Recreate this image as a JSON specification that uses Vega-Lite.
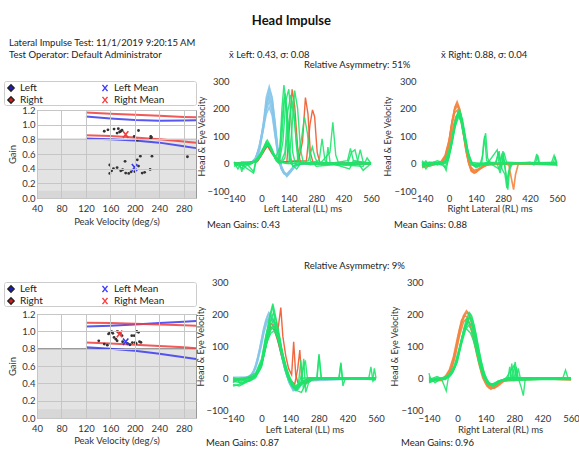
{
"$schema":"https://vega.github.io/schema/vega-lite/v6.json",
"padding":{"left":3,"top":14,"right":0,"bottom":0},
"title":{"text":"Head Impulse","fontSize":13,"fontWeight":"bold","anchor":"middle","offset":10,"color":"#111"},
"datasets":{
"sp1":[{"side":"Right","vel":150,"gain":0.91},{"side":"Right","vel":156,"gain":0.93},{"side":"Right","vel":166,"gain":0.94},{"side":"Right","vel":173,"gain":0.945},{"side":"Right","vel":171,"gain":0.885},{"side":"Right","vel":175,"gain":0.9},{"side":"Right","vel":177,"gain":0.91},{"side":"Right","vel":179,"gain":0.925},{"side":"Right","vel":199,"gain":0.84},{"side":"Right","vel":204,"gain":0.79},{"side":"Right","vel":206,"gain":0.92},{"side":"Right","vel":226,"gain":0.84},{"side":"Right","vel":226,"gain":0.81},{"side":"Right","vel":227,"gain":0.83},
{"side":"Left","vel":159,"gain":0.45},{"side":"Left","vel":159,"gain":0.335},{"side":"Left","vel":165,"gain":0.4},{"side":"Left","vel":171,"gain":0.415},{"side":"Left","vel":177,"gain":0.37},{"side":"Left","vel":180,"gain":0.385},{"side":"Left","vel":185,"gain":0.34},{"side":"Left","vel":190,"gain":0.335},{"side":"Left","vel":194,"gain":0.357},{"side":"Left","vel":184,"gain":0.5},{"side":"Left","vel":204,"gain":0.52},{"side":"Left","vel":209,"gain":0.57},{"side":"Left","vel":206,"gain":0.435},{"side":"Left","vel":212,"gain":0.34},{"side":"Left","vel":228,"gain":0.57},{"side":"Left","vel":225,"gain":0.39},{"side":"Left","vel":286,"gain":0.563},{"side":"Left","vel":162,"gain":0.37},{"side":"Left","vel":200,"gain":0.36},{"side":"Left","vel":216,"gain":0.35}],
"mn1":[{"side":"Left","vel":199.5,"gain":0.418},{"side":"Right","vel":185,"gain":0.866}],
"bd1":[{"side":"Left","lim":"upper","vel":120,"gain":1.11},{"side":"Left","lim":"upper","vel":160,"gain":1.085},{"side":"Left","lim":"upper","vel":200,"gain":1.065},{"side":"Left","lim":"upper","vel":240,"gain":1.055},{"side":"Left","lim":"upper","vel":280,"gain":1.058},{"side":"Left","lim":"upper","vel":300,"gain":1.06},
{"side":"Left","lim":"lower","vel":120,"gain":0.81},{"side":"Left","lim":"lower","vel":160,"gain":0.8},{"side":"Left","lim":"lower","vel":200,"gain":0.785},{"side":"Left","lim":"lower","vel":240,"gain":0.755},{"side":"Left","lim":"lower","vel":280,"gain":0.705},{"side":"Left","lim":"lower","vel":300,"gain":0.68},
{"side":"Right","lim":"upper","vel":120,"gain":1.165},{"side":"Right","lim":"upper","vel":160,"gain":1.15},{"side":"Right","lim":"upper","vel":200,"gain":1.135},{"side":"Right","lim":"upper","vel":240,"gain":1.12},{"side":"Right","lim":"upper","vel":280,"gain":1.105},{"side":"Right","lim":"upper","vel":300,"gain":1.1},
{"side":"Right","lim":"lower","vel":120,"gain":0.855},{"side":"Right","lim":"lower","vel":160,"gain":0.845},{"side":"Right","lim":"lower","vel":200,"gain":0.825},{"side":"Right","lim":"lower","vel":240,"gain":0.8},{"side":"Right","lim":"lower","vel":280,"gain":0.77},{"side":"Right","lim":"lower","vel":300,"gain":0.755}],
"sp2":[{"side":"Right","vel":157,"gain":0.97},{"side":"Right","vel":159,"gain":0.985},{"side":"Right","vel":162,"gain":0.996},{"side":"Right","vel":164,"gain":0.977},{"side":"Right","vel":166,"gain":0.93},{"side":"Right","vel":169,"gain":0.91},{"side":"Right","vel":171.5,"gain":1.0},{"side":"Right","vel":173,"gain":0.988},{"side":"Right","vel":176,"gain":0.977},{"side":"Right","vel":179,"gain":0.95},{"side":"Right","vel":195,"gain":0.95},{"side":"Right","vel":199,"gain":0.95},{"side":"Right","vel":203,"gain":1.0},{"side":"Right","vel":206,"gain":0.988},
{"side":"Left","vel":141,"gain":0.89},{"side":"Left","vel":150,"gain":0.853},{"side":"Left","vel":155,"gain":0.84},{"side":"Left","vel":171,"gain":0.89},{"side":"Left","vel":188,"gain":0.86},{"side":"Left","vel":192,"gain":0.845},{"side":"Left","vel":200.6,"gain":0.87},{"side":"Left","vel":202,"gain":0.86},{"side":"Left","vel":207.6,"gain":0.88},{"side":"Left","vel":210,"gain":0.872},{"side":"Left","vel":180,"gain":0.88},{"side":"Left","vel":196,"gain":0.87}],
"mn2":[{"side":"Left","vel":185,"gain":0.88},{"side":"Right","vel":175,"gain":0.97}],
"bd2":[{"side":"Left","lim":"upper","vel":120,"gain":1.055},{"side":"Left","lim":"upper","vel":160,"gain":1.065},{"side":"Left","lim":"upper","vel":200,"gain":1.08},{"side":"Left","lim":"upper","vel":240,"gain":1.095},{"side":"Left","lim":"upper","vel":280,"gain":1.11},{"side":"Left","lim":"upper","vel":300,"gain":1.12},
{"side":"Left","lim":"lower","vel":120,"gain":0.815},{"side":"Left","lim":"lower","vel":160,"gain":0.8},{"side":"Left","lim":"lower","vel":200,"gain":0.775},{"side":"Left","lim":"lower","vel":240,"gain":0.74},{"side":"Left","lim":"lower","vel":280,"gain":0.7},{"side":"Left","lim":"lower","vel":300,"gain":0.68},
{"side":"Right","lim":"upper","vel":120,"gain":1.1},{"side":"Right","lim":"upper","vel":160,"gain":1.095},{"side":"Right","lim":"upper","vel":200,"gain":1.088},{"side":"Right","lim":"upper","vel":240,"gain":1.08},{"side":"Right","lim":"upper","vel":280,"gain":1.07},{"side":"Right","lim":"upper","vel":300,"gain":1.065},
{"side":"Right","lim":"lower","vel":120,"gain":0.87},{"side":"Right","lim":"lower","vel":160,"gain":0.86},{"side":"Right","lim":"lower","vel":200,"gain":0.845},{"side":"Right","lim":"lower","vel":240,"gain":0.83},{"side":"Right","lim":"lower","vel":280,"gain":0.815},{"side":"Right","lim":"lower","vel":300,"gain":0.805}],
"Ah":[{"s":1,"t":-140,"v":0},{"s":1,"t":-80,"v":1},{"s":1,"t":-50,"v":3},{"s":1,"t":-30,"v":15},{"s":1,"t":-10,"v":60},{"s":1,"t":10,"v":145},{"s":1,"t":25,"v":240},{"s":1,"t":40,"v":280},{"s":1,"t":55,"v":240},{"s":1,"t":70,"v":140},{"s":1,"t":85,"v":40},{"s":1,"t":100,"v":-15},{"s":1,"t":115,"v":-35},{"s":1,"t":130,"v":-40},{"s":1,"t":150,"v":-25},{"s":1,"t":170,"v":-8},{"s":1,"t":200,"v":0},{"s":1,"t":300,"v":0},{"s":1,"t":560,"v":0},
{"s":2,"t":-140,"v":0},{"s":2,"t":-80,"v":0},{"s":2,"t":-50,"v":4},{"s":2,"t":-30,"v":12},{"s":2,"t":-10,"v":50},{"s":2,"t":10,"v":130},{"s":2,"t":25,"v":215},{"s":2,"t":40,"v":250},{"s":2,"t":55,"v":218},{"s":2,"t":70,"v":125},{"s":2,"t":85,"v":35},{"s":2,"t":100,"v":-12},{"s":2,"t":115,"v":-32},{"s":2,"t":130,"v":-38},{"s":2,"t":150,"v":-22},{"s":2,"t":170,"v":-6},{"s":2,"t":200,"v":1},{"s":2,"t":300,"v":0},{"s":2,"t":560,"v":0},
{"s":3,"t":-140,"v":1},{"s":3,"t":-80,"v":0},{"s":3,"t":-50,"v":3},{"s":3,"t":-30,"v":18},{"s":3,"t":-10,"v":65},{"s":3,"t":10,"v":135},{"s":3,"t":25,"v":195},{"s":3,"t":40,"v":225},{"s":3,"t":55,"v":190},{"s":3,"t":70,"v":105},{"s":3,"t":85,"v":25},{"s":3,"t":100,"v":-18},{"s":3,"t":115,"v":-38},{"s":3,"t":130,"v":-42},{"s":3,"t":150,"v":-28},{"s":3,"t":170,"v":-10},{"s":3,"t":200,"v":0},{"s":3,"t":300,"v":1},{"s":3,"t":560,"v":0},
{"s":4,"t":-140,"v":0},{"s":4,"t":-80,"v":2},{"s":4,"t":-50,"v":5},{"s":4,"t":-30,"v":20},{"s":4,"t":-10,"v":60},{"s":4,"t":10,"v":125},{"s":4,"t":25,"v":180},{"s":4,"t":40,"v":205},{"s":4,"t":55,"v":175},{"s":4,"t":70,"v":100},{"s":4,"t":85,"v":30},{"s":4,"t":100,"v":-10},{"s":4,"t":115,"v":-30},{"s":4,"t":130,"v":-45},{"s":4,"t":150,"v":-30},{"s":4,"t":170,"v":-12},{"s":4,"t":200,"v":-2},{"s":4,"t":300,"v":0},{"s":4,"t":560,"v":0},
{"s":5,"t":-140,"v":0},{"s":5,"t":-80,"v":1},{"s":5,"t":-50,"v":2},{"s":5,"t":-30,"v":10},{"s":5,"t":-10,"v":45},{"s":5,"t":10,"v":125},{"s":5,"t":25,"v":220},{"s":5,"t":40,"v":265},{"s":5,"t":55,"v":235},{"s":5,"t":70,"v":150},{"s":5,"t":85,"v":50},{"s":5,"t":100,"v":-5},{"s":5,"t":115,"v":-30},{"s":5,"t":130,"v":-48},{"s":5,"t":150,"v":-30},{"s":5,"t":170,"v":-10},{"s":5,"t":200,"v":0},{"s":5,"t":300,"v":0},{"s":5,"t":560,"v":0},
{"s":6,"t":-140,"v":0},{"s":6,"t":-60,"v":2},{"s":6,"t":-40,"v":8},{"s":6,"t":-20,"v":35},{"s":6,"t":0,"v":100},{"s":6,"t":20,"v":190},{"s":6,"t":38,"v":240},{"s":6,"t":52,"v":215},{"s":6,"t":68,"v":140},{"s":6,"t":82,"v":55},{"s":6,"t":98,"v":-8},{"s":6,"t":115,"v":-35},{"s":6,"t":135,"v":-40},{"s":6,"t":155,"v":-22},{"s":6,"t":180,"v":-5},{"s":6,"t":220,"v":0},{"s":6,"t":560,"v":0}],
"As":[{"s":1,"t":-140,"v":0},{"s":1,"t":-60,"v":5},{"s":1,"t":-20,"v":10},{"s":1,"t":10,"v":45},{"s":1,"t":30,"v":70},{"s":1,"t":55,"v":40},{"s":1,"t":90,"v":5},{"s":1,"t":130,"v":5},{"s":1,"t":145,"v":150},{"s":1,"t":157,"v":270},{"s":1,"t":170,"v":210},{"s":1,"t":185,"v":60},{"s":1,"t":200,"v":0},{"s":1,"t":250,"v":0},{"s":1,"t":560,"v":0},
{"s":2,"t":-140,"v":0},{"s":2,"t":-60,"v":0},{"s":2,"t":-20,"v":8},{"s":2,"t":10,"v":40},{"s":2,"t":30,"v":65},{"s":2,"t":55,"v":35},{"s":2,"t":100,"v":5},{"s":2,"t":190,"v":10},{"s":2,"t":210,"v":80},{"s":2,"t":225,"v":240},{"s":2,"t":238,"v":180},{"s":2,"t":250,"v":40},{"s":2,"t":265,"v":0},{"s":2,"t":560,"v":0},
{"s":3,"t":-140,"v":0},{"s":3,"t":-50,"v":5},{"s":3,"t":-20,"v":10},{"s":3,"t":15,"v":50},{"s":3,"t":35,"v":68},{"s":3,"t":60,"v":35},{"s":3,"t":100,"v":5},{"s":3,"t":230,"v":10},{"s":3,"t":248,"v":140},{"s":3,"t":261,"v":195},{"s":3,"t":272,"v":170},{"s":3,"t":285,"v":40},{"s":3,"t":300,"v":0},{"s":3,"t":560,"v":0}],
"Ae":[{"s":1,"t":-140,"v":0},{"s":1,"t":-110,"v":-5},{"s":1,"t":-100,"v":-30},{"s":1,"t":-90,"v":5},{"s":1,"t":-60,"v":0},{"s":1,"t":-30,"v":10},{"s":1,"t":0,"v":40},{"s":1,"t":20,"v":65},{"s":1,"t":35,"v":75},{"s":1,"t":50,"v":55},{"s":1,"t":70,"v":20},{"s":1,"t":85,"v":10},{"s":1,"t":95,"v":60},{"s":1,"t":105,"v":200},{"s":1,"t":115,"v":285},{"s":1,"t":125,"v":230},{"s":1,"t":135,"v":80},{"s":1,"t":145,"v":10},{"s":1,"t":160,"v":0},{"s":1,"t":200,"v":5},{"s":1,"t":250,"v":-5},{"s":1,"t":300,"v":0},{"s":1,"t":420,"v":-5},{"s":1,"t":560,"v":0},
{"s":2,"t":-140,"v":-10},{"s":2,"t":-100,"v":0},{"s":2,"t":-70,"v":-5},{"s":2,"t":-40,"v":-30},{"s":2,"t":-30,"v":5},{"s":2,"t":0,"v":35},{"s":2,"t":20,"v":60},{"s":2,"t":35,"v":70},{"s":2,"t":55,"v":45},{"s":2,"t":75,"v":10},{"s":2,"t":90,"v":0},{"s":2,"t":110,"v":80},{"s":2,"t":125,"v":230},{"s":2,"t":140,"v":270},{"s":2,"t":150,"v":180},{"s":2,"t":160,"v":40},{"s":2,"t":175,"v":-5},{"s":2,"t":220,"v":0},{"s":2,"t":300,"v":5},{"s":2,"t":360,"v":0},{"s":2,"t":450,"v":-20},{"s":2,"t":470,"v":10},{"s":2,"t":560,"v":0},
{"s":3,"t":-140,"v":0},{"s":3,"t":-100,"v":5},{"s":3,"t":-60,"v":-5},{"s":3,"t":-20,"v":15},{"s":3,"t":0,"v":40},{"s":3,"t":25,"v":80},{"s":3,"t":40,"v":65},{"s":3,"t":60,"v":30},{"s":3,"t":80,"v":15},{"s":3,"t":100,"v":5},{"s":3,"t":120,"v":40},{"s":3,"t":135,"v":190},{"s":3,"t":150,"v":250},{"s":3,"t":165,"v":200},{"s":3,"t":180,"v":60},{"s":3,"t":195,"v":5},{"s":3,"t":230,"v":0},{"s":3,"t":295,"v":10},{"s":3,"t":310,"v":90},{"s":3,"t":325,"v":10},{"s":3,"t":350,"v":0},{"s":3,"t":440,"v":10},{"s":3,"t":455,"v":55},{"s":3,"t":470,"v":10},{"s":3,"t":560,"v":0},
{"s":4,"t":-140,"v":5},{"s":4,"t":-120,"v":-20},{"s":4,"t":-100,"v":5},{"s":4,"t":-50,"v":0},{"s":4,"t":-20,"v":20},{"s":4,"t":5,"v":50},{"s":4,"t":25,"v":70},{"s":4,"t":45,"v":60},{"s":4,"t":65,"v":25},{"s":4,"t":85,"v":5},{"s":4,"t":140,"v":0},{"s":4,"t":155,"v":120},{"s":4,"t":170,"v":265},{"s":4,"t":185,"v":200},{"s":4,"t":200,"v":50},{"s":4,"t":215,"v":0},{"s":4,"t":300,"v":0},{"s":4,"t":350,"v":40},{"s":4,"t":365,"v":150},{"s":4,"t":380,"v":30},{"s":4,"t":395,"v":0},{"s":4,"t":490,"v":5},{"s":4,"t":505,"v":50},{"s":4,"t":520,"v":5},{"s":4,"t":560,"v":0},
{"s":5,"t":-140,"v":0},{"s":5,"t":-80,"v":-10},{"s":5,"t":-60,"v":0},{"s":5,"t":-20,"v":10},{"s":5,"t":10,"v":55},{"s":5,"t":30,"v":85},{"s":5,"t":50,"v":60},{"s":5,"t":70,"v":25},{"s":5,"t":90,"v":10},{"s":5,"t":105,"v":100},{"s":5,"t":118,"v":240},{"s":5,"t":130,"v":200},{"s":5,"t":140,"v":60},{"s":5,"t":150,"v":0},{"s":5,"t":180,"v":-20},{"s":5,"t":200,"v":0},{"s":5,"t":260,"v":5},{"s":5,"t":280,"v":-10},{"s":5,"t":440,"v":0},{"s":5,"t":460,"v":40},{"s":5,"t":478,"v":50},{"s":5,"t":495,"v":0},{"s":5,"t":520,"v":-25},{"s":5,"t":560,"v":0},
{"s":6,"t":-140,"v":-5},{"s":6,"t":-100,"v":0},{"s":6,"t":-40,"v":5},{"s":6,"t":-10,"v":20},{"s":6,"t":20,"v":60},{"s":6,"t":40,"v":70},{"s":6,"t":60,"v":40},{"s":6,"t":80,"v":15},{"s":6,"t":100,"v":0},{"s":6,"t":120,"v":20},{"s":6,"t":140,"v":150},{"s":6,"t":155,"v":220},{"s":6,"t":170,"v":150},{"s":6,"t":185,"v":20},{"s":6,"t":200,"v":0},{"s":6,"t":240,"v":10},{"s":6,"t":260,"v":60},{"s":6,"t":275,"v":20},{"s":6,"t":290,"v":0},{"s":6,"t":520,"v":-10},{"s":6,"t":540,"v":20},{"s":6,"t":560,"v":0},
{"s":7,"t":-140,"v":0},{"s":7,"t":-90,"v":-20},{"s":7,"t":-80,"v":5},{"s":7,"t":-30,"v":5},{"s":7,"t":0,"v":30},{"s":7,"t":25,"v":72},{"s":7,"t":45,"v":62},{"s":7,"t":65,"v":28},{"s":7,"t":90,"v":8},{"s":7,"t":130,"v":0},{"s":7,"t":180,"v":0},{"s":7,"t":205,"v":90},{"s":7,"t":220,"v":170},{"s":7,"t":235,"v":110},{"s":7,"t":250,"v":10},{"s":7,"t":265,"v":0},{"s":7,"t":560,"v":0},
{"s":8,"t":-140,"v":5},{"s":8,"t":-100,"v":-5},{"s":8,"t":-40,"v":-35},{"s":8,"t":-30,"v":0},{"s":8,"t":0,"v":35},{"s":8,"t":25,"v":70},{"s":8,"t":45,"v":58},{"s":8,"t":70,"v":20},{"s":8,"t":95,"v":60},{"s":8,"t":108,"v":180},{"s":8,"t":120,"v":255},{"s":8,"t":132,"v":180},{"s":8,"t":145,"v":40},{"s":8,"t":160,"v":-10},{"s":8,"t":200,"v":0},{"s":8,"t":330,"v":0},{"s":8,"t":340,"v":60},{"s":8,"t":352,"v":0},{"s":8,"t":560,"v":0}],
"Bh":[{"s":1,"t":-140,"v":-10},{"s":1,"t":-100,"v":-5},{"s":1,"t":-60,"v":0},{"s":1,"t":-40,"v":5},{"s":1,"t":-20,"v":25},{"s":1,"t":0,"v":80},{"s":1,"t":15,"v":150},{"s":1,"t":30,"v":205},{"s":1,"t":42,"v":225},{"s":1,"t":55,"v":200},{"s":1,"t":70,"v":140},{"s":1,"t":85,"v":70},{"s":1,"t":100,"v":10},{"s":1,"t":115,"v":-25},{"s":1,"t":130,"v":-35},{"s":1,"t":150,"v":-25},{"s":1,"t":180,"v":-10},{"s":1,"t":220,"v":0},{"s":1,"t":300,"v":0},{"s":1,"t":560,"v":0},
{"s":2,"t":-140,"v":-15},{"s":2,"t":-100,"v":-8},{"s":2,"t":-60,"v":-2},{"s":2,"t":-40,"v":3},{"s":2,"t":-20,"v":20},{"s":2,"t":0,"v":70},{"s":2,"t":15,"v":140},{"s":2,"t":30,"v":195},{"s":2,"t":45,"v":210},{"s":2,"t":60,"v":180},{"s":2,"t":75,"v":120},{"s":2,"t":90,"v":55},{"s":2,"t":105,"v":0},{"s":2,"t":120,"v":-30},{"s":2,"t":140,"v":-32},{"s":2,"t":160,"v":-18},{"s":2,"t":200,"v":-5},{"s":2,"t":300,"v":0},{"s":2,"t":560,"v":-5},
{"s":3,"t":-140,"v":-5},{"s":3,"t":-100,"v":0},{"s":3,"t":-60,"v":0},{"s":3,"t":-40,"v":8},{"s":3,"t":-20,"v":30},{"s":3,"t":0,"v":85},{"s":3,"t":15,"v":145},{"s":3,"t":30,"v":185},{"s":3,"t":45,"v":195},{"s":3,"t":60,"v":165},{"s":3,"t":75,"v":105},{"s":3,"t":90,"v":40},{"s":3,"t":105,"v":-5},{"s":3,"t":120,"v":-25},{"s":3,"t":140,"v":-28},{"s":3,"t":170,"v":-12},{"s":3,"t":220,"v":0},{"s":3,"t":560,"v":0},
{"s":4,"t":-140,"v":-10},{"s":4,"t":-60,"v":0},{"s":4,"t":-40,"v":5},{"s":4,"t":-20,"v":18},{"s":4,"t":0,"v":60},{"s":4,"t":20,"v":130},{"s":4,"t":35,"v":170},{"s":4,"t":50,"v":180},{"s":4,"t":65,"v":150},{"s":4,"t":80,"v":90},{"s":4,"t":95,"v":30},{"s":4,"t":110,"v":-10},{"s":4,"t":130,"v":-25},{"s":4,"t":155,"v":-20},{"s":4,"t":190,"v":-5},{"s":4,"t":280,"v":0},{"s":4,"t":310,"v":-5},{"s":4,"t":325,"v":-60},{"s":4,"t":335,"v":-95},{"s":4,"t":345,"v":-40},{"s":4,"t":360,"v":0},{"s":4,"t":560,"v":0},
{"s":5,"t":-140,"v":-8},{"s":5,"t":-60,"v":0},{"s":5,"t":-40,"v":4},{"s":5,"t":-20,"v":22},{"s":5,"t":0,"v":75},{"s":5,"t":15,"v":150},{"s":5,"t":30,"v":200},{"s":5,"t":40,"v":215},{"s":5,"t":55,"v":195},{"s":5,"t":70,"v":135},{"s":5,"t":85,"v":60},{"s":5,"t":100,"v":5},{"s":5,"t":115,"v":-28},{"s":5,"t":135,"v":-34},{"s":5,"t":160,"v":-20},{"s":5,"t":200,"v":-3},{"s":5,"t":560,"v":0}],
"Be":[{"s":1,"t":-140,"v":-5},{"s":1,"t":-120,"v":10},{"s":1,"t":-100,"v":-10},{"s":1,"t":-60,"v":0},{"s":1,"t":-30,"v":0},{"s":1,"t":-15,"v":-25},{"s":1,"t":0,"v":30},{"s":1,"t":20,"v":100},{"s":1,"t":35,"v":160},{"s":1,"t":50,"v":190},{"s":1,"t":65,"v":165},{"s":1,"t":80,"v":110},{"s":1,"t":95,"v":55},{"s":1,"t":110,"v":10},{"s":1,"t":130,"v":-10},{"s":1,"t":160,"v":-5},{"s":1,"t":175,"v":30},{"s":1,"t":185,"v":100},{"s":1,"t":195,"v":10},{"s":1,"t":230,"v":0},{"s":1,"t":300,"v":5},{"s":1,"t":420,"v":0},{"s":1,"t":560,"v":-5},
{"s":2,"t":-140,"v":0},{"s":2,"t":-100,"v":5},{"s":2,"t":-60,"v":-5},{"s":2,"t":-30,"v":5},{"s":2,"t":-10,"v":15},{"s":2,"t":10,"v":60},{"s":2,"t":30,"v":135},{"s":2,"t":45,"v":175},{"s":2,"t":60,"v":180},{"s":2,"t":75,"v":130},{"s":2,"t":90,"v":70},{"s":2,"t":105,"v":20},{"s":2,"t":120,"v":-5},{"s":2,"t":150,"v":0},{"s":2,"t":245,"v":5},{"s":2,"t":255,"v":40},{"s":2,"t":265,"v":10},{"s":2,"t":280,"v":45},{"s":2,"t":290,"v":-10},{"s":2,"t":305,"v":-95},{"s":2,"t":315,"v":-20},{"s":2,"t":330,"v":0},{"s":2,"t":450,"v":5},{"s":2,"t":460,"v":30},{"s":2,"t":470,"v":0},{"s":2,"t":560,"v":0},
{"s":3,"t":-140,"v":10},{"s":3,"t":-110,"v":-10},{"s":3,"t":-80,"v":5},{"s":3,"t":-40,"v":0},{"s":3,"t":-20,"v":10},{"s":3,"t":10,"v":70},{"s":3,"t":30,"v":150},{"s":3,"t":45,"v":185},{"s":3,"t":60,"v":170},{"s":3,"t":75,"v":115},{"s":3,"t":95,"v":45},{"s":3,"t":115,"v":0},{"s":3,"t":140,"v":-10},{"s":3,"t":170,"v":0},{"s":3,"t":180,"v":80},{"s":3,"t":190,"v":110},{"s":3,"t":200,"v":20},{"s":3,"t":215,"v":0},{"s":3,"t":260,"v":-20},{"s":3,"t":275,"v":30},{"s":3,"t":290,"v":0},{"s":3,"t":560,"v":5},
{"s":4,"t":-140,"v":-10},{"s":4,"t":-100,"v":0},{"s":4,"t":-50,"v":5},{"s":4,"t":-20,"v":-15},{"s":4,"t":0,"v":20},{"s":4,"t":20,"v":90},{"s":4,"t":40,"v":165},{"s":4,"t":55,"v":195},{"s":4,"t":70,"v":160},{"s":4,"t":85,"v":100},{"s":4,"t":100,"v":40},{"s":4,"t":120,"v":0},{"s":4,"t":140,"v":-15},{"s":4,"t":200,"v":0},{"s":4,"t":250,"v":50},{"s":4,"t":260,"v":0},{"s":4,"t":290,"v":-40},{"s":4,"t":300,"v":-90},{"s":4,"t":310,"v":-30},{"s":4,"t":320,"v":0},{"s":4,"t":540,"v":0},{"s":4,"t":550,"v":25},{"s":4,"t":560,"v":-10},
{"s":5,"t":-140,"v":0},{"s":5,"t":-90,"v":5},{"s":5,"t":-40,"v":-5},{"s":5,"t":-15,"v":10},{"s":5,"t":5,"v":50},{"s":5,"t":25,"v":125},{"s":5,"t":40,"v":170},{"s":5,"t":55,"v":185},{"s":5,"t":70,"v":150},{"s":5,"t":85,"v":85},{"s":5,"t":100,"v":30},{"s":5,"t":115,"v":-5},{"s":5,"t":150,"v":-10},{"s":5,"t":200,"v":5},{"s":5,"t":240,"v":0},{"s":5,"t":260,"v":45},{"s":5,"t":272,"v":-20},{"s":5,"t":285,"v":40},{"s":5,"t":300,"v":0},{"s":5,"t":560,"v":0},
{"s":6,"t":-140,"v":5},{"s":6,"t":-120,"v":-20},{"s":6,"t":-100,"v":0},{"s":6,"t":-60,"v":10},{"s":6,"t":-20,"v":0},{"s":6,"t":5,"v":45},{"s":6,"t":25,"v":120},{"s":6,"t":45,"v":175},{"s":6,"t":60,"v":160},{"s":6,"t":75,"v":105},{"s":6,"t":95,"v":40},{"s":6,"t":115,"v":5},{"s":6,"t":160,"v":0},{"s":6,"t":300,"v":0},{"s":6,"t":420,"v":5},{"s":6,"t":440,"v":-5},{"s":6,"t":455,"v":35},{"s":6,"t":465,"v":0},{"s":6,"t":530,"v":0},{"s":6,"t":545,"v":30},{"s":6,"t":560,"v":0},
{"s":7,"t":-140,"v":-5},{"s":7,"t":-100,"v":0},{"s":7,"t":-40,"v":0},{"s":7,"t":-10,"v":5},{"s":7,"t":10,"v":55},{"s":7,"t":30,"v":130},{"s":7,"t":50,"v":170},{"s":7,"t":65,"v":150},{"s":7,"t":80,"v":95},{"s":7,"t":100,"v":35},{"s":7,"t":120,"v":0},{"s":7,"t":150,"v":-5},{"s":7,"t":250,"v":0},{"s":7,"t":265,"v":-35},{"s":7,"t":280,"v":30},{"s":7,"t":300,"v":-60},{"s":7,"t":320,"v":0},{"s":7,"t":560,"v":0}],
"Ch":[{"s":1,"t":-140,"v":0},{"s":1,"t":-80,"v":2},{"s":1,"t":-60,"v":5},{"s":1,"t":-40,"v":20},{"s":1,"t":-20,"v":60},{"s":1,"t":0,"v":120},{"s":1,"t":20,"v":180},{"s":1,"t":35,"v":205},{"s":1,"t":50,"v":195},{"s":1,"t":65,"v":160},{"s":1,"t":80,"v":120},{"s":1,"t":95,"v":80},{"s":1,"t":110,"v":40},{"s":1,"t":125,"v":10},{"s":1,"t":140,"v":-20},{"s":1,"t":160,"v":-38},{"s":1,"t":180,"v":-35},{"s":1,"t":200,"v":-15},{"s":1,"t":230,"v":0},{"s":1,"t":560,"v":0},
{"s":2,"t":-140,"v":-3},{"s":2,"t":-80,"v":0},{"s":2,"t":-60,"v":3},{"s":2,"t":-40,"v":15},{"s":2,"t":-20,"v":50},{"s":2,"t":0,"v":105},{"s":2,"t":20,"v":170},{"s":2,"t":40,"v":195},{"s":2,"t":55,"v":180},{"s":2,"t":70,"v":145},{"s":2,"t":85,"v":105},{"s":2,"t":100,"v":65},{"s":2,"t":115,"v":28},{"s":2,"t":130,"v":-5},{"s":2,"t":150,"v":-30},{"s":2,"t":170,"v":-38},{"s":2,"t":190,"v":-22},{"s":2,"t":220,"v":-5},{"s":2,"t":560,"v":0},
{"s":3,"t":-140,"v":0},{"s":3,"t":-70,"v":0},{"s":3,"t":-50,"v":8},{"s":3,"t":-30,"v":30},{"s":3,"t":-10,"v":80},{"s":3,"t":10,"v":140},{"s":3,"t":30,"v":180},{"s":3,"t":45,"v":185},{"s":3,"t":60,"v":165},{"s":3,"t":75,"v":130},{"s":3,"t":90,"v":90},{"s":3,"t":105,"v":50},{"s":3,"t":120,"v":15},{"s":3,"t":135,"v":-15},{"s":3,"t":155,"v":-40},{"s":3,"t":175,"v":-35},{"s":3,"t":200,"v":-12},{"s":3,"t":240,"v":0},{"s":3,"t":560,"v":0},
{"s":4,"t":-140,"v":2},{"s":4,"t":-70,"v":3},{"s":4,"t":-50,"v":10},{"s":4,"t":-30,"v":35},{"s":4,"t":-10,"v":90},{"s":4,"t":10,"v":155},{"s":4,"t":30,"v":195},{"s":4,"t":42,"v":200},{"s":4,"t":58,"v":180},{"s":4,"t":72,"v":145},{"s":4,"t":88,"v":100},{"s":4,"t":102,"v":60},{"s":4,"t":118,"v":20},{"s":4,"t":135,"v":-15},{"s":4,"t":155,"v":-38},{"s":4,"t":175,"v":-32},{"s":4,"t":200,"v":-10},{"s":4,"t":560,"v":0}],
"Cs":[{"s":1,"t":-140,"v":-10},{"s":1,"t":-60,"v":0},{"s":1,"t":-30,"v":10},{"s":1,"t":0,"v":45},{"s":1,"t":25,"v":120},{"s":1,"t":45,"v":170},{"s":1,"t":62,"v":160},{"s":1,"t":78,"v":140},{"s":1,"t":94,"v":220},{"s":1,"t":104,"v":130},{"s":1,"t":118,"v":70},{"s":1,"t":132,"v":30},{"s":1,"t":147,"v":10},{"s":1,"t":157,"v":113},{"s":1,"t":167,"v":10},{"s":1,"t":180,"v":-20},{"s":1,"t":200,"v":-15},{"s":1,"t":230,"v":0},{"s":1,"t":560,"v":0},
{"s":2,"t":-140,"v":-5},{"s":2,"t":-60,"v":0},{"s":2,"t":-30,"v":5},{"s":2,"t":0,"v":40},{"s":2,"t":25,"v":110},{"s":2,"t":45,"v":160},{"s":2,"t":62,"v":150},{"s":2,"t":80,"v":115},{"s":2,"t":100,"v":65},{"s":2,"t":120,"v":25},{"s":2,"t":140,"v":-5},{"s":2,"t":162,"v":-20},{"s":2,"t":177,"v":30},{"s":2,"t":187,"v":87},{"s":2,"t":196,"v":0},{"s":2,"t":210,"v":-20},{"s":2,"t":240,"v":-5},{"s":2,"t":560,"v":0}],
"Ce":[{"s":1,"t":-140,"v":-15},{"s":1,"t":-120,"v":-5},{"s":1,"t":-100,"v":-20},{"s":1,"t":-70,"v":-10},{"s":1,"t":-40,"v":0},{"s":1,"t":-20,"v":15},{"s":1,"t":0,"v":55},{"s":1,"t":20,"v":125},{"s":1,"t":40,"v":195},{"s":1,"t":55,"v":232},{"s":1,"t":68,"v":195},{"s":1,"t":80,"v":150},{"s":1,"t":95,"v":100},{"s":1,"t":110,"v":55},{"s":1,"t":125,"v":15},{"s":1,"t":145,"v":-20},{"s":1,"t":165,"v":-35},{"s":1,"t":185,"v":-22},{"s":1,"t":205,"v":-8},{"s":1,"t":270,"v":0},{"s":1,"t":281,"v":75},{"s":1,"t":292,"v":0},{"s":1,"t":310,"v":0},{"s":1,"t":560,"v":-5},
{"s":2,"t":-140,"v":-20},{"s":2,"t":-110,"v":-25},{"s":2,"t":-80,"v":-15},{"s":2,"t":-50,"v":-5},{"s":2,"t":-25,"v":10},{"s":2,"t":0,"v":40},{"s":2,"t":20,"v":100},{"s":2,"t":40,"v":150},{"s":2,"t":58,"v":165},{"s":2,"t":72,"v":145},{"s":2,"t":88,"v":110},{"s":2,"t":102,"v":70},{"s":2,"t":118,"v":30},{"s":2,"t":135,"v":0},{"s":2,"t":155,"v":-25},{"s":2,"t":175,"v":-30},{"s":2,"t":195,"v":-20},{"s":2,"t":206,"v":60},{"s":2,"t":216,"v":-45},{"s":2,"t":230,"v":-15},{"s":2,"t":260,"v":0},{"s":2,"t":378,"v":0},{"s":2,"t":388,"v":45},{"s":2,"t":398,"v":-25},{"s":2,"t":410,"v":0},{"s":2,"t":560,"v":0},
{"s":3,"t":-140,"v":-10},{"s":3,"t":-100,"v":-15},{"s":3,"t":-60,"v":-8},{"s":3,"t":-30,"v":5},{"s":3,"t":-5,"v":30},{"s":3,"t":20,"v":95},{"s":3,"t":40,"v":160},{"s":3,"t":58,"v":180},{"s":3,"t":72,"v":170},{"s":3,"t":88,"v":125},{"s":3,"t":102,"v":80},{"s":3,"t":118,"v":40},{"s":3,"t":135,"v":5},{"s":3,"t":155,"v":-20},{"s":3,"t":175,"v":-40},{"s":3,"t":195,"v":-45},{"s":3,"t":215,"v":-20},{"s":3,"t":245,"v":-5},{"s":3,"t":525,"v":0},{"s":3,"t":535,"v":35},{"s":3,"t":545,"v":-10},{"s":3,"t":560,"v":0},
{"s":4,"t":-140,"v":-5},{"s":4,"t":-100,"v":-10},{"s":4,"t":-60,"v":0},{"s":4,"t":-30,"v":10},{"s":4,"t":0,"v":50},{"s":4,"t":20,"v":115},{"s":4,"t":40,"v":170},{"s":4,"t":58,"v":205},{"s":4,"t":72,"v":180},{"s":4,"t":88,"v":130},{"s":4,"t":102,"v":75},{"s":4,"t":118,"v":30},{"s":4,"t":135,"v":-5},{"s":4,"t":155,"v":-30},{"s":4,"t":175,"v":-35},{"s":4,"t":195,"v":-20},{"s":4,"t":235,"v":-5},{"s":4,"t":545,"v":0},{"s":4,"t":552,"v":30},{"s":4,"t":560,"v":0},
{"s":5,"t":-140,"v":-25},{"s":5,"t":-110,"v":-20},{"s":5,"t":-80,"v":-10},{"s":5,"t":-50,"v":0},{"s":5,"t":-25,"v":15},{"s":5,"t":0,"v":45},{"s":5,"t":25,"v":110},{"s":5,"t":45,"v":140},{"s":5,"t":62,"v":148},{"s":5,"t":78,"v":125},{"s":5,"t":92,"v":95},{"s":5,"t":108,"v":60},{"s":5,"t":122,"v":25},{"s":5,"t":142,"v":-10},{"s":5,"t":162,"v":-30},{"s":5,"t":182,"v":-25},{"s":5,"t":205,"v":-10},{"s":5,"t":272,"v":0},{"s":5,"t":281,"v":70},{"s":5,"t":292,"v":0},{"s":5,"t":560,"v":0},
{"s":6,"t":-140,"v":0},{"s":6,"t":-100,"v":-5},{"s":6,"t":-60,"v":5},{"s":6,"t":-30,"v":15},{"s":6,"t":0,"v":60},{"s":6,"t":20,"v":130},{"s":6,"t":40,"v":175},{"s":6,"t":55,"v":185},{"s":6,"t":68,"v":165},{"s":6,"t":82,"v":120},{"s":6,"t":98,"v":70},{"s":6,"t":112,"v":30},{"s":6,"t":128,"v":0},{"s":6,"t":148,"v":-25},{"s":6,"t":168,"v":-40},{"s":6,"t":185,"v":-20},{"s":6,"t":205,"v":0},{"s":6,"t":380,"v":0},{"s":6,"t":388,"v":48},{"s":6,"t":396,"v":0},{"s":6,"t":560,"v":0},
{"s":7,"t":-140,"v":-10},{"s":7,"t":-100,"v":-5},{"s":7,"t":-60,"v":-10},{"s":7,"t":-30,"v":0},{"s":7,"t":0,"v":35},{"s":7,"t":25,"v":110},{"s":7,"t":45,"v":150},{"s":7,"t":62,"v":160},{"s":7,"t":78,"v":140},{"s":7,"t":92,"v":105},{"s":7,"t":108,"v":65},{"s":7,"t":122,"v":30},{"s":7,"t":142,"v":-5},{"s":7,"t":162,"v":-25},{"s":7,"t":180,"v":-20},{"s":7,"t":192,"v":55},{"s":7,"t":204,"v":-30},{"s":7,"t":220,"v":-10},{"s":7,"t":250,"v":0},{"s":7,"t":560,"v":-5},
{"s":8,"t":-140,"v":-5},{"s":8,"t":-90,"v":0},{"s":8,"t":-50,"v":-5},{"s":8,"t":-25,"v":10},{"s":8,"t":5,"v":60},{"s":8,"t":25,"v":140},{"s":8,"t":42,"v":190},{"s":8,"t":55,"v":225},{"s":8,"t":66,"v":170},{"s":8,"t":80,"v":135},{"s":8,"t":95,"v":90},{"s":8,"t":110,"v":45},{"s":8,"t":125,"v":10},{"s":8,"t":145,"v":-20},{"s":8,"t":165,"v":-30},{"s":8,"t":185,"v":-15},{"s":8,"t":214,"v":55},{"s":8,"t":224,"v":0},{"s":8,"t":560,"v":0}],
"Dh":[{"s":1,"t":-140,"v":-10},{"s":1,"t":-80,"v":-5},{"s":1,"t":-60,"v":0},{"s":1,"t":-40,"v":15},{"s":1,"t":-20,"v":50},{"s":1,"t":0,"v":110},{"s":1,"t":20,"v":170},{"s":1,"t":40,"v":200},{"s":1,"t":50,"v":205},{"s":1,"t":65,"v":185},{"s":1,"t":80,"v":150},{"s":1,"t":95,"v":105},{"s":1,"t":110,"v":60},{"s":1,"t":125,"v":20},{"s":1,"t":140,"v":0},{"s":1,"t":160,"v":-25},{"s":1,"t":180,"v":-32},{"s":1,"t":200,"v":-25},{"s":1,"t":230,"v":-10},{"s":1,"t":280,"v":0},{"s":1,"t":560,"v":-5},
{"s":2,"t":-140,"v":-5},{"s":2,"t":-80,"v":-8},{"s":2,"t":-60,"v":5},{"s":2,"t":-40,"v":25},{"s":2,"t":-20,"v":65},{"s":2,"t":0,"v":125},{"s":2,"t":20,"v":180},{"s":2,"t":35,"v":195},{"s":2,"t":50,"v":190},{"s":2,"t":65,"v":160},{"s":2,"t":80,"v":120},{"s":2,"t":95,"v":75},{"s":2,"t":110,"v":35},{"s":2,"t":125,"v":0},{"s":2,"t":145,"v":-25},{"s":2,"t":165,"v":-35},{"s":2,"t":190,"v":-25},{"s":2,"t":220,"v":-8},{"s":2,"t":560,"v":0},
{"s":3,"t":-140,"v":-12},{"s":3,"t":-80,"v":-3},{"s":3,"t":-50,"v":5},{"s":3,"t":-30,"v":25},{"s":3,"t":-10,"v":70},{"s":3,"t":10,"v":130},{"s":3,"t":30,"v":175},{"s":3,"t":45,"v":185},{"s":3,"t":60,"v":170},{"s":3,"t":75,"v":135},{"s":3,"t":90,"v":95},{"s":3,"t":105,"v":50},{"s":3,"t":120,"v":15},{"s":3,"t":135,"v":-10},{"s":3,"t":155,"v":-30},{"s":3,"t":175,"v":-30},{"s":3,"t":200,"v":-15},{"s":3,"t":240,"v":0},{"s":3,"t":560,"v":0},
{"s":4,"t":-140,"v":-8},{"s":4,"t":-70,"v":0},{"s":4,"t":-50,"v":10},{"s":4,"t":-30,"v":35},{"s":4,"t":-10,"v":85},{"s":4,"t":10,"v":150},{"s":4,"t":30,"v":195},{"s":4,"t":45,"v":210},{"s":4,"t":60,"v":195},{"s":4,"t":75,"v":160},{"s":4,"t":90,"v":115},{"s":4,"t":105,"v":70},{"s":4,"t":120,"v":25},{"s":4,"t":140,"v":-10},{"s":4,"t":160,"v":-30},{"s":4,"t":185,"v":-30},{"s":4,"t":210,"v":-15},{"s":4,"t":250,"v":0},{"s":4,"t":560,"v":-5}],
"De":[{"s":1,"t":-140,"v":15},{"s":1,"t":-130,"v":-10},{"s":1,"t":-110,"v":-5},{"s":1,"t":-80,"v":0},{"s":1,"t":-55,"v":-40},{"s":1,"t":-45,"v":0},{"s":1,"t":-20,"v":20},{"s":1,"t":0,"v":60},{"s":1,"t":20,"v":120},{"s":1,"t":40,"v":175},{"s":1,"t":58,"v":205},{"s":1,"t":70,"v":195},{"s":1,"t":85,"v":160},{"s":1,"t":100,"v":110},{"s":1,"t":115,"v":60},{"s":1,"t":130,"v":20},{"s":1,"t":145,"v":-5},{"s":1,"t":165,"v":-20},{"s":1,"t":190,"v":-15},{"s":1,"t":220,"v":-5},{"s":1,"t":560,"v":-5},
{"s":2,"t":-140,"v":-10},{"s":2,"t":-100,"v":0},{"s":2,"t":-60,"v":-5},{"s":2,"t":-30,"v":15},{"s":2,"t":-5,"v":45},{"s":2,"t":20,"v":105},{"s":2,"t":40,"v":150},{"s":2,"t":55,"v":165},{"s":2,"t":70,"v":150},{"s":2,"t":85,"v":115},{"s":2,"t":100,"v":70},{"s":2,"t":115,"v":30},{"s":2,"t":130,"v":0},{"s":2,"t":150,"v":-15},{"s":2,"t":170,"v":-20},{"s":2,"t":200,"v":-10},{"s":2,"t":260,"v":0},{"s":2,"t":268,"v":45},{"s":2,"t":278,"v":-10},{"s":2,"t":290,"v":35},{"s":2,"t":300,"v":0},{"s":2,"t":560,"v":0},
{"s":3,"t":-140,"v":0},{"s":3,"t":-100,"v":-10},{"s":3,"t":-70,"v":0},{"s":3,"t":-40,"v":10},{"s":3,"t":-15,"v":40},{"s":3,"t":10,"v":95},{"s":3,"t":30,"v":145},{"s":3,"t":50,"v":185},{"s":3,"t":65,"v":185},{"s":3,"t":80,"v":150},{"s":3,"t":95,"v":105},{"s":3,"t":110,"v":60},{"s":3,"t":125,"v":20},{"s":3,"t":140,"v":-5},{"s":3,"t":160,"v":-20},{"s":3,"t":190,"v":-20},{"s":3,"t":230,"v":-5},{"s":3,"t":300,"v":0},{"s":3,"t":315,"v":-30},{"s":3,"t":325,"v":-55},{"s":3,"t":335,"v":0},{"s":3,"t":560,"v":0},
{"s":4,"t":-140,"v":-5},{"s":4,"t":-100,"v":5},{"s":4,"t":-70,"v":-5},{"s":4,"t":-40,"v":5},{"s":4,"t":-10,"v":35},{"s":4,"t":15,"v":100},{"s":4,"t":35,"v":150},{"s":4,"t":55,"v":175},{"s":4,"t":70,"v":165},{"s":4,"t":85,"v":130},{"s":4,"t":100,"v":85},{"s":4,"t":115,"v":40},{"s":4,"t":130,"v":5},{"s":4,"t":150,"v":-20},{"s":4,"t":175,"v":-25},{"s":4,"t":200,"v":-15},{"s":4,"t":240,"v":0},{"s":4,"t":280,"v":40},{"s":4,"t":290,"v":-5},{"s":4,"t":300,"v":30},{"s":4,"t":310,"v":0},{"s":4,"t":520,"v":0},{"s":4,"t":533,"v":25},{"s":4,"t":545,"v":0},{"s":4,"t":560,"v":-5},
{"s":5,"t":-140,"v":5},{"s":5,"t":-110,"v":-15},{"s":5,"t":-80,"v":0},{"s":5,"t":-50,"v":5},{"s":5,"t":-20,"v":25},{"s":5,"t":5,"v":70},{"s":5,"t":25,"v":130},{"s":5,"t":45,"v":170},{"s":5,"t":60,"v":190},{"s":5,"t":75,"v":170},{"s":5,"t":90,"v":130},{"s":5,"t":105,"v":80},{"s":5,"t":120,"v":35},{"s":5,"t":135,"v":0},{"s":5,"t":155,"v":-20},{"s":5,"t":180,"v":-25},{"s":5,"t":210,"v":-10},{"s":5,"t":560,"v":0},
{"s":6,"t":-140,"v":-15},{"s":6,"t":-100,"v":-5},{"s":6,"t":-60,"v":0},{"s":6,"t":-35,"v":10},{"s":6,"t":-10,"v":40},{"s":6,"t":15,"v":110},{"s":6,"t":35,"v":160},{"s":6,"t":50,"v":150},{"s":6,"t":65,"v":140},{"s":6,"t":80,"v":115},{"s":6,"t":95,"v":80},{"s":6,"t":110,"v":40},{"s":6,"t":125,"v":10},{"s":6,"t":145,"v":-15},{"s":6,"t":170,"v":-25},{"s":6,"t":200,"v":-10},{"s":6,"t":250,"v":0},{"s":6,"t":258,"v":35},{"s":6,"t":268,"v":0},{"s":6,"t":560,"v":0},
{"s":7,"t":-140,"v":-5},{"s":7,"t":-100,"v":0},{"s":7,"t":-60,"v":-5},{"s":7,"t":-30,"v":10},{"s":7,"t":0,"v":50},{"s":7,"t":25,"v":125},{"s":7,"t":45,"v":165},{"s":7,"t":62,"v":200},{"s":7,"t":75,"v":180},{"s":7,"t":90,"v":140},{"s":7,"t":105,"v":90},{"s":7,"t":120,"v":45},{"s":7,"t":135,"v":10},{"s":7,"t":155,"v":-15},{"s":7,"t":180,"v":-20},{"s":7,"t":210,"v":-10},{"s":7,"t":270,"v":0},{"s":7,"t":285,"v":50},{"s":7,"t":295,"v":0},{"s":7,"t":560,"v":0}],
"leg":[{"k":"Left"},{"k":"Right"},{"k":"Left Mean"},{"k":"Right Mean"}]
},
"spacing":30,
"vconcat":[
{"spacing":4,"vconcat":[
 {"spacing":-3,"vconcat":[
  {"spacing":0,"hconcat":[
   {"width":225,"height":1,"data":{"values":[]},"mark":{"type":"rule"},"encoding":{},"title":{"text":["Lateral Impulse Test: 11/1/2019 9:20:15 AM","Test Operator: Default Administrator"],"anchor":"start","frame":"group","dx":5,"offset":2,"lineHeight":12}},
   {"width":212,"height":1,"data":{"values":[]},"mark":{"type":"rule"},"encoding":{},"title":{"text":"x̄ Left: 0.43, σ: 0.08","anchor":"start","frame":"group","offset":2}},
   {"width":100,"height":1,"data":{"values":[]},"mark":{"type":"rule"},"encoding":{},"title":{"text":"x̄ Right: 0.88, σ: 0.04","anchor":"start","frame":"group","offset":2}}
  ]},
  {"width":1,"height":1,"data":{"values":[]},"mark":{"type":"rule"},"encoding":{},"title":{"text":"Relative Asymmetry: 51%","anchor":"start","frame":"group","dx":300,"offset":2}}
 ]},
 {"spacing":-4,"hconcat":[
  {"vconcat":[
    {"width":192,"height":24,"view":{"stroke":"#cccccc","cornerRadius":2},
     "data":{"name":"leg"},
     "mark":{"type":"point","filled":true,"opacity":0},
     "encoding":{
      "shape":{"field":"k","type":"nominal","scale":{"domain":["Left","Right","Left Mean","Right Mean"],"range":["diamond","diamond","M-0.8,-1L0.8,1M0.8,-1L-0.8,1","M-0.8,-1L0.8,1M0.8,-1L-0.8,1"]},
        "legend":{"title":null,"orient":"top-left","offset":2,"columns":2,"columnPadding":56,"rowPadding":0,"symbolSize":40,"symbolStrokeWidth":1.4,"symbolOpacity":1,"labelFontSize":10,"labelOffset":4,"padding":0}},
      "fill":{"field":"k","type":"nominal","scale":{"domain":["Left","Right","Left Mean","Right Mean"],"range":["#1b1bd0","#dd1c1c","transparent","transparent"]}},
      "stroke":{"field":"k","type":"nominal","scale":{"domain":["Left","Right","Left Mean","Right Mean"],"range":["#222222","#222222","#3b3bff","#ff3b3b"]}}}},
    {"spacing":2,"hconcat":[
     {"width":1,"height":1,"data":{"values":[]},"mark":{"type":"rule"},"encoding":{}},
     {"width":159,"height":88,"view":{"stroke":"#999999"},
     "layer":[
      {"data":{"values":[{"lo":0,"hi":0.8}]},"mark":{"type":"rect","color":"#e3e3e3"},
       "encoding":{"y":{"field":"lo","type":"quantitative","scale":{"domain":[0,1.2],"nice":false},"axis":{"title":"Gain","values":[0,0.2,0.4,0.6,0.8,1,1.2],"tickCount":20,"format":".1f","grid":true,"gridColor":"#c6c6c6","labelPadding":2,"titlePadding":4,"labelOverlap":false,"zindex":1}},"y2":{"field":"hi"}}},
      {"data":{"values":[{"lo":0,"hi":0.1}]},"mark":{"type":"rect","color":"#d7d7d7"},
       "encoding":{"y":{"field":"lo","type":"quantitative"},"y2":{"field":"hi"}}},
      {"data":{"values":[{"g":0.8}]},"mark":{"type":"rule","color":"#9a9a9a","strokeWidth":1.2},"encoding":{"y":{"field":"g","type":"quantitative"}}},
      {"data":{"name":"bd1"},"mark":{"type":"line","strokeWidth":2,"opacity":0.85},
       "encoding":{"x":{"field":"vel","type":"quantitative","scale":{"domain":[40,300],"nice":false},"axis":{"title":"Peak Velocity (deg/s)","values":[40,80,120,160,200,240,280],"tickCount":20,"grid":true,"gridColor":"#c6c6c6","labelPadding":5,"titlePadding":4,"labelOverlap":false,"zindex":1}},
        "y":{"field":"gain","type":"quantitative"},"detail":{"field":"lim","type":"nominal"},
        "color":{"field":"side","type":"nominal","scale":{"domain":["Left","Right"],"range":["#3a3aee","#f03c3c"]},"legend":null}}},
      {"data":{"name":"sp1"},"mark":{"type":"circle","size":8,"color":"#333333","opacity":1},
       "encoding":{"x":{"field":"vel","type":"quantitative"},"y":{"field":"gain","type":"quantitative"}}},
      {"data":{"name":"mn1"},"mark":{"type":"point","shape":"M-0.8,-1L0.8,1M0.8,-1L-0.8,1","size":45,"strokeWidth":1.6,"filled":false,"opacity":1},
       "encoding":{"x":{"field":"vel","type":"quantitative"},"y":{"field":"gain","type":"quantitative"},"color":{"field":"side","type":"nominal","scale":{"domain":["Left","Right"],"range":["#3a3aee","#f03c3c"]},"legend":null}}}
     ]}
    ]}
   ],
   "spacing":-3,
   "resolve":{"scale":{"shape":"independent","fill":"independent","stroke":"independent","color":"independent"},"legend":{"shape":"independent","fill":"independent","stroke":"independent","color":"independent"}}},
  {"spacing":3,"hconcat":[
   {"vconcat":[
     {"width":137,"height":110,
      "layer":[
       {"data":{"name":"Ah"},"mark":{"type":"line","color":"#86c5ea","strokeWidth":1.6,"opacity":0.9},
        "encoding":{"x":{"field":"t","type":"quantitative","scale":{"domain":[-140,560],"nice":false},"axis":{"title":"Left Lateral (LL) ms","values":[-140,0,140,280,420,560],"tickCount":20,"labelPadding":2,"titlePadding":1,"labelOverlap":false}},
         "y":{"field":"v","type":"quantitative","scale":{"domain":[-100,300],"nice":false},"axis":{"title":"Head & Eye Velocity","values":[-100,0,100,200,300],"tickCount":20,"labelPadding":5,"titlePadding":0,"titleFontSize":9,"labelOverlap":false}},
         "detail":{"field":"s","type":"nominal"}}},
       {"data":{"name":"As"},"mark":{"type":"line","color":"#f0572a","strokeWidth":1.4,"opacity":0.9},
        "encoding":{"x":{"field":"t","type":"quantitative"},"y":{"field":"v","type":"quantitative"},"detail":{"field":"s","type":"nominal"}}},
       {"data":{"name":"Ae"},"mark":{"type":"line","color":"#1de46c","strokeWidth":1.4,"opacity":0.9},
        "encoding":{"x":{"field":"t","type":"quantitative"},"y":{"field":"v","type":"quantitative"},"detail":{"field":"s","type":"nominal"}}}
      ]}
    ],
    "title":{"text":"Mean Gains: 0.43","orient":"bottom","anchor":"start","frame":"group","dx":-27,"offset":7}},
   {"vconcat":[
     {"width":135,"height":110,
      "layer":[
       {"data":{"name":"Bh"},"mark":{"type":"line","color":"#f4843f","strokeWidth":1.6,"opacity":0.9},
        "encoding":{"x":{"field":"t","type":"quantitative","scale":{"domain":[-140,560],"nice":false},"axis":{"title":"Right Lateral (RL) ms","values":[-140,0,140,280,420,560],"tickCount":20,"labelPadding":2,"titlePadding":1,"labelOverlap":false}},
         "y":{"field":"v","type":"quantitative","scale":{"domain":[-100,300],"nice":false},"axis":{"title":"Head & Eye Velocity","values":[-100,0,100,200,300],"tickCount":20,"labelPadding":6,"titlePadding":1,"titleFontSize":9,"labelOverlap":false}},
         "detail":{"field":"s","type":"nominal"}}},
       {"data":{"name":"Be"},"mark":{"type":"line","color":"#1de46c","strokeWidth":1.4,"opacity":0.9},
        "encoding":{"x":{"field":"t","type":"quantitative"},"y":{"field":"v","type":"quantitative"},"detail":{"field":"s","type":"nominal"}}}
      ]}
    ],
    "title":{"text":"Mean Gains: 0.88","orient":"bottom","anchor":"start","frame":"group","dx":-28,"offset":7}}
  ]}
 ]}
]},
{"spacing":4,"vconcat":[
 {"width":1,"height":1,"data":{"values":[]},"mark":{"type":"rule"},"encoding":{},"title":{"text":"Relative Asymmetry: 9%","anchor":"start","frame":"group","dx":300,"offset":2}},
 {"spacing":-5,"hconcat":[
  {"vconcat":[
    {"width":192,"height":24,"view":{"stroke":"#cccccc","cornerRadius":2},
     "data":{"name":"leg"},
     "mark":{"type":"point","filled":true,"opacity":0},
     "encoding":{
      "shape":{"field":"k","type":"nominal","scale":{"domain":["Left","Right","Left Mean","Right Mean"],"range":["diamond","diamond","M-0.8,-1L0.8,1M0.8,-1L-0.8,1","M-0.8,-1L0.8,1M0.8,-1L-0.8,1"]},
        "legend":{"title":null,"orient":"top-left","offset":2,"columns":2,"columnPadding":56,"rowPadding":0,"symbolSize":40,"symbolStrokeWidth":1.4,"symbolOpacity":1,"labelFontSize":10,"labelOffset":4,"padding":0}},
      "fill":{"field":"k","type":"nominal","scale":{"domain":["Left","Right","Left Mean","Right Mean"],"range":["#1b1bd0","#dd1c1c","transparent","transparent"]}},
      "stroke":{"field":"k","type":"nominal","scale":{"domain":["Left","Right","Left Mean","Right Mean"],"range":["#222222","#222222","#3b3bff","#ff3b3b"]}}}},
    {"spacing":2,"hconcat":[
     {"width":1,"height":1,"data":{"values":[]},"mark":{"type":"rule"},"encoding":{}},
     {"width":159,"height":104,"view":{"stroke":"#999999"},
     "layer":[
      {"data":{"values":[{"lo":0,"hi":0.8}]},"mark":{"type":"rect","color":"#e3e3e3"},
       "encoding":{"y":{"field":"lo","type":"quantitative","scale":{"domain":[0,1.2],"nice":false},"axis":{"title":"Gain","values":[0,0.2,0.4,0.6,0.8,1,1.2],"tickCount":20,"format":".1f","grid":true,"gridColor":"#c6c6c6","labelPadding":2,"titlePadding":4,"labelOverlap":false,"zindex":1}},"y2":{"field":"hi"}}},
      {"data":{"values":[{"lo":0,"hi":0.1}]},"mark":{"type":"rect","color":"#d7d7d7"},
       "encoding":{"y":{"field":"lo","type":"quantitative"},"y2":{"field":"hi"}}},
      {"data":{"values":[{"g":0.8}]},"mark":{"type":"rule","color":"#9a9a9a","strokeWidth":1.2},"encoding":{"y":{"field":"g","type":"quantitative"}}},
      {"data":{"name":"bd2"},"mark":{"type":"line","strokeWidth":2,"opacity":0.85},
       "encoding":{"x":{"field":"vel","type":"quantitative","scale":{"domain":[40,300],"nice":false},"axis":{"title":"Peak Velocity (deg/s)","values":[40,80,120,160,200,240,280],"tickCount":20,"grid":true,"gridColor":"#c6c6c6","labelPadding":5,"titlePadding":3,"labelOverlap":false,"zindex":1}},
        "y":{"field":"gain","type":"quantitative"},"detail":{"field":"lim","type":"nominal"},
        "color":{"field":"side","type":"nominal","scale":{"domain":["Left","Right"],"range":["#3a3aee","#f03c3c"]},"legend":null}}},
      {"data":{"name":"sp2"},"mark":{"type":"circle","size":8,"color":"#333333","opacity":1},
       "encoding":{"x":{"field":"vel","type":"quantitative"},"y":{"field":"gain","type":"quantitative"}}},
      {"data":{"name":"mn2"},"mark":{"type":"point","shape":"M-0.8,-1L0.8,1M0.8,-1L-0.8,1","size":45,"strokeWidth":1.6,"filled":false,"opacity":1},
       "encoding":{"x":{"field":"vel","type":"quantitative"},"y":{"field":"gain","type":"quantitative"},"color":{"field":"side","type":"nominal","scale":{"domain":["Left","Right"],"range":["#3a3aee","#f03c3c"]},"legend":null}}}
     ]}
    ]}
   ],
   "spacing":0,
   "resolve":{"scale":{"shape":"independent","fill":"independent","stroke":"independent","color":"independent"},"legend":{"shape":"independent","fill":"independent","stroke":"independent","color":"independent"}}},
  {"spacing":5,"hconcat":[
   {"vconcat":[
     {"width":143,"height":128,
      "layer":[
       {"data":{"name":"Ch"},"mark":{"type":"line","color":"#86c5ea","strokeWidth":1.6,"opacity":0.9},
        "encoding":{"x":{"field":"t","type":"quantitative","scale":{"domain":[-140,560],"nice":false},"axis":{"title":"Left Lateral (LL) ms","values":[-140,0,140,280,420,560],"tickCount":20,"labelPadding":3,"titlePadding":2,"labelOverlap":false}},
         "y":{"field":"v","type":"quantitative","scale":{"domain":[-100,300],"nice":false},"axis":{"title":"Head & Eye Velocity","values":[-100,0,100,200,300],"tickCount":20,"labelPadding":5,"titlePadding":0,"titleFontSize":9,"labelOverlap":false}},
         "detail":{"field":"s","type":"nominal"}}},
       {"data":{"name":"Cs"},"mark":{"type":"line","color":"#f0572a","strokeWidth":1.4,"opacity":0.9},
        "encoding":{"x":{"field":"t","type":"quantitative"},"y":{"field":"v","type":"quantitative"},"detail":{"field":"s","type":"nominal"}}},
       {"data":{"name":"Ce"},"mark":{"type":"line","color":"#1de46c","strokeWidth":1.4,"opacity":0.9},
        "encoding":{"x":{"field":"t","type":"quantitative"},"y":{"field":"v","type":"quantitative"},"detail":{"field":"s","type":"nominal"}}}
      ]}
    ],
    "title":{"text":"Mean Gains: 0.87","orient":"bottom","anchor":"start","frame":"group","dx":-27,"offset":4}},
   {"vconcat":[
     {"width":142,"height":128,
      "layer":[
       {"data":{"name":"Dh"},"mark":{"type":"line","color":"#f4843f","strokeWidth":1.6,"opacity":0.9},
        "encoding":{"x":{"field":"t","type":"quantitative","scale":{"domain":[-140,560],"nice":false},"axis":{"title":"Right Lateral (RL) ms","values":[-140,0,140,280,420,560],"tickCount":20,"labelPadding":3,"titlePadding":2,"labelOverlap":false}},
         "y":{"field":"v","type":"quantitative","scale":{"domain":[-100,300],"nice":false},"axis":{"title":"Head & Eye Velocity","values":[-100,0,100,200,300],"tickCount":20,"labelPadding":6,"titlePadding":1,"titleFontSize":9,"labelOverlap":false}},
         "detail":{"field":"s","type":"nominal"}}},
       {"data":{"name":"De"},"mark":{"type":"line","color":"#1de46c","strokeWidth":1.4,"opacity":0.9},
        "encoding":{"x":{"field":"t","type":"quantitative"},"y":{"field":"v","type":"quantitative"},"detail":{"field":"s","type":"nominal"}}}
      ]}
    ],
    "title":{"text":"Mean Gains: 0.96","orient":"bottom","anchor":"start","frame":"group","dx":-28,"offset":4}}
  ]}
 ]}
]}
],
"config":{
 "font":"Lato",
 "view":{"stroke":null},
 "axis":{"labelFontSize":9.5,"titleFontSize":9.5,"labelColor":"#333333","titleColor":"#333333","titleFontWeight":"normal","domain":false,"ticks":false,"grid":false,"labelFlush":false,"labelOverlap":false,"labelFont":"Lato","titleFont":"Lato"},
 "title":{"font":"Lato","fontSize":9.5,"fontWeight":"normal","color":"#222222"},
 "legend":{"labelFont":"Lato","labelFontSize":10,"labelColor":"#222222"}
}
}
